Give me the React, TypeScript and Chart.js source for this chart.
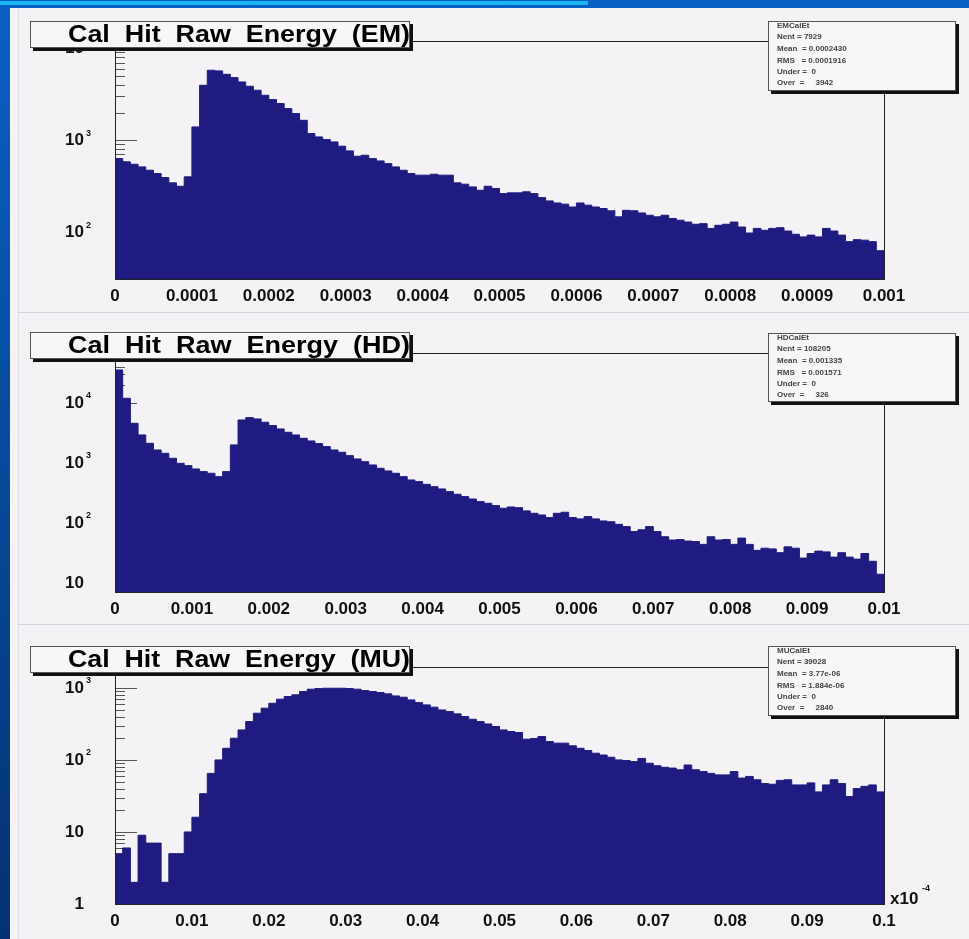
import React, { useEffect, useRef } from "react";
import { Chart, registerables } from "chart.js";

Chart.register(...registerables);

const PAGE_W = 969;
const PAGE_H = 939;
const NAVY = "#1f1b80";
const FONT = '"Liberation Sans", Arial, Helvetica, sans-serif';

// ---------------- data ----------------
const EM_RANGE = [0, 0.001];
const EM_COUNTS = [
  632, 582, 548, 513, 472, 434, 393, 344, 316, 400,
  1396, 3960, 5768, 5675, 5212, 4797, 4303, 3864, 3497, 3085,
  2767, 2504, 2208, 1950, 1648, 1182, 1087, 1017, 959, 861,
  766, 670, 687, 632, 596, 557, 513, 472, 434, 417,
  417, 427, 417, 417, 344, 333, 311, 286, 316, 299,
  263, 268, 268, 275, 263, 238, 219, 208, 202, 188,
  208, 197, 188, 181, 171, 147, 173, 171, 162, 153,
  147, 153, 141, 135, 129, 122, 124, 110, 119, 122,
  129, 114, 98, 110, 105, 110, 112, 103, 95, 89,
  93, 89, 110, 103, 93, 79, 83, 82, 79, 63,
];
const EM_X_LABELS = ["0", "0.0001", "0.0002", "0.0003", "0.0004", "0.0005", "0.0006", "0.0007", "0.0008", "0.0009", "0.001"];
const EM_Y_LABELS = [100, 1000, 10000];
const EM_Y_LIMITS = [31, 12000];
const EM_TITLE = "Cal  Hit  Raw  Energy  (EM)";
const EM_STATS = ["EMCalEt", "Nent = 7929", "Mean  = 0.0002430", "RMS   = 0.0001916", "Under =  0", "Over  =     3942"];

const HD_RANGE = [0, 0.01];
const HD_COUNTS = [
  35500, 11970, 4580, 2930, 2130, 1648, 1450, 1197, 987, 903,
  794, 718, 673, 592, 718, 2000, 5210, 5700, 5420, 4770,
  4200, 3690, 3245, 2930, 2578, 2328, 2103, 1873, 1648, 1507,
  1325, 1167, 1052, 926, 815, 736, 673, 592, 521, 489,
  441, 403, 369, 333, 301, 275, 251, 227, 213, 195,
  176, 185, 180, 159, 145, 136, 123, 145, 151, 123,
  117, 128, 117, 108, 105, 95, 87, 72, 77, 87,
  72, 59, 52, 53, 50, 49, 44, 59, 52, 53,
  44, 56, 44, 35, 38, 37, 32, 40, 38, 26,
  31, 34, 33, 27, 32, 27, 25, 31, 23, 14,
];
const HD_X_LABELS = ["0", "0.001", "0.002", "0.003", "0.004", "0.005", "0.006", "0.007", "0.008", "0.009", "0.01"];
const HD_Y_LABELS = [10, 100, 1000, 10000];
const HD_Y_LIMITS = [7.08, 68000];
const HD_TITLE = "Cal  Hit  Raw  Energy  (HD)";
const HD_STATS = ["HDCalEt", "Nent = 108205", "Mean  = 0.001335", "RMS   = 0.001571", "Under =  0", "Over  =     326"];

const MU_RANGE = [0, 0.1];
const MU_COUNTS = [
  5, 6, 2, 9, 7, 7, 2, 5, 5, 10,
  16, 34, 65, 100, 145, 200, 261, 341, 445, 523,
  612, 697, 758, 800, 890, 959, 980, 989, 989, 989,
  980, 959, 919, 890, 861, 826, 774, 742, 681, 625,
  581, 540, 495, 469, 436, 400, 367, 341, 316, 291,
  261, 248, 240, 194, 198, 211, 180, 171, 171, 157,
  145, 135, 124, 117, 109, 100, 98, 95, 105, 90,
  83, 79, 77, 73, 85, 73, 69, 65, 62, 62,
  69, 56, 59, 53, 47, 46, 52, 53, 45, 45,
  48, 36, 45, 53, 47, 31, 40, 43, 45, 36,
];
const MU_X_LABELS = ["0", "0.01", "0.02", "0.03", "0.04", "0.05", "0.06", "0.07", "0.08", "0.09", "0.1"];
const MU_Y_LABELS = [1, 10, 100, 1000];
const MU_Y_LIMITS = [1, 1950];
const MU_TITLE = "Cal  Hit  Raw  Energy  (MU)";
const MU_STATS = ["MUCalEt", "Nent = 39028", "Mean  = 3.77e-06", "RMS   = 1.884e-06", "Under =  0", "Over  =     2840"];
const MU_X_EXPONENT = "-4";

// ---------------- layout (page pixels) ----------------
const PANELS = [
  {
    counts: EM_COUNTS, range: EM_RANGE, xLabels: EM_X_LABELS, yLabels: EM_Y_LABELS, yLimits: EM_Y_LIMITS,
    title: EM_TITLE, stats: EM_STATS, xExp: null,
    plot: { left: 115, right: 884, top: 41, bottom: 279 },
    titleBox: { x: 30, y: 21, w: 380, h: 27 },
    statsBox: { x: 768, y: 21, w: 188, h: 70 },
  },
  {
    counts: HD_COUNTS, range: HD_RANGE, xLabels: HD_X_LABELS, yLabels: HD_Y_LABELS, yLimits: HD_Y_LIMITS,
    title: HD_TITLE, stats: HD_STATS, xExp: null,
    plot: { left: 115, right: 884, top: 353, bottom: 592 },
    titleBox: { x: 30, y: 332, w: 380, h: 27 },
    statsBox: { x: 768, y: 333, w: 188, h: 69 },
  },
  {
    counts: MU_COUNTS, range: MU_RANGE, xLabels: MU_X_LABELS, yLabels: MU_Y_LABELS, yLimits: MU_Y_LIMITS,
    title: MU_TITLE, stats: MU_STATS, xExp: MU_X_EXPONENT,
    plot: { left: 115, right: 884, top: 667, bottom: 904 },
    titleBox: { x: 30, y: 646, w: 380, h: 27 },
    statsBox: { x: 768, y: 646, w: 188, h: 70 },
  },
];

function histPoints(counts: number[], range: number[]) {
  const n = counts.length;
  const w = (range[1] - range[0]) / n;
  const pts = counts.map((v, i) => ({ x: range[0] + i * w, y: v }));
  pts.push({ x: range[1], y: counts[n - 1] });
  return pts;
}

function drawBox(ctx: CanvasRenderingContext2D, b: any) {
  ctx.fillStyle = "#111";
  ctx.fillRect(b.x + 3, b.y + 3, b.w, b.h);
  ctx.fillStyle = "#f7f6f8";
  ctx.fillRect(b.x, b.y, b.w, b.h);
  ctx.strokeStyle = "#555";
  ctx.lineWidth = 1;
  ctx.strokeRect(b.x + 0.5, b.y + 0.5, b.w - 1, b.h - 1);
}

function makePlugin(cfg: any) {
  return {
    id: "rootPad",
    beforeDatasetsDraw(chart: any) {
      const { ctx, chartArea: a, scales } = chart;
      const x = scales.x, y = scales.y;
      ctx.save();
      ctx.strokeStyle = "#555";
      ctx.lineWidth = 1;
      ctx.beginPath();
      const e0 = Math.floor(Math.log10(y.min));
      const e1 = Math.ceil(Math.log10(y.max));
      for (let e = e0; e <= e1; e++) {
        for (let m = 1; m <= 9; m++) {
          const v = m * Math.pow(10, e);
          if (v < y.min || v > y.max) continue;
          const py = Math.round(y.getPixelForValue(v)) + 0.5;
          const len = m === 1 ? 22 : 10;
          ctx.moveTo(a.left, py);
          ctx.lineTo(a.left + len, py);
        }
      }
      for (const lab of cfg.xLabels) {
        const px = Math.round(x.getPixelForValue(parseFloat(lab))) + 0.5;
        ctx.moveTo(px, a.bottom);
        ctx.lineTo(px, a.bottom - 12);
      }
      ctx.stroke();
      ctx.restore();
    },
    afterDatasetsDraw(chart: any) {
      const { ctx, chartArea: a, scales } = chart;
      const x = scales.x, y = scales.y;
      ctx.save();
      // frame
      ctx.strokeStyle = "#222";
      ctx.lineWidth = 1;
      ctx.strokeRect(a.left + 0.5, a.top + 0.5, a.right - a.left, a.bottom - a.top);

      // x labels
      ctx.fillStyle = "#111";
      ctx.font = `bold 17px ${FONT}`;
      ctx.textAlign = "center";
      ctx.textBaseline = "middle";
      for (const lab of cfg.xLabels) {
        const px = x.getPixelForValue(parseFloat(lab));
        ctx.fillText(lab, px, a.bottom + 17);
      }
      // y labels
      for (const v of cfg.yLabels) {
        const py = y.getPixelForValue(v);
        const e = Math.round(Math.log10(v));
        ctx.font = `bold 17px ${FONT}`;
        ctx.textAlign = "right";
        ctx.textBaseline = "middle";
        if (e === 0) {
          ctx.fillText("1", 84, py);
        } else {
          ctx.fillText("10", 84, py);
          if (e > 1) {
            ctx.font = `bold 9px ${FONT}`;
            ctx.textAlign = "left";
            ctx.fillText(String(e), 86, py - 7);
          }
        }
      }
      // axis multiplier
      if (cfg.xExp) {
        ctx.font = `bold 17px ${FONT}`;
        ctx.textAlign = "left";
        ctx.textBaseline = "alphabetic";
        ctx.fillText("x10", a.right + 6, a.bottom);
        ctx.font = `bold 9px ${FONT}`;
        ctx.fillText(cfg.xExp, a.right + 38, a.bottom - 13);
      }

      // title box
      const tb = cfg.titleBox;
      drawBox(ctx, tb);
      ctx.fillStyle = "#000";
      ctx.font = `bold 23px ${FONT}`;
      ctx.textAlign = "left";
      ctx.textBaseline = "middle";
      const tw = ctx.measureText(cfg.title).width;
      const target = tb.x + tb.w - 38 - tb.x;
      ctx.save();
      ctx.translate(tb.x + 38, tb.y + tb.h / 2 + 1);
      ctx.scale(target / tw, 1);
      ctx.fillText(cfg.title, 0, 0);
      ctx.restore();

      // stats box
      const sb = cfg.statsBox;
      drawBox(ctx, sb);
      ctx.fillStyle = "#444";
      ctx.font = `bold 8px ${FONT}`;
      ctx.textAlign = "left";
      ctx.textBaseline = "middle";
      const offs = [5, 16, 28, 40, 51, 62];
      cfg.stats.forEach((s: string, i: number) => {
        ctx.fillText(s, sb.x + 9, sb.y + offs[i]);
      });
      ctx.restore();
    },
  };
}

export default function App() {
  const refs = [useRef<HTMLCanvasElement>(null), useRef<HTMLCanvasElement>(null), useRef<HTMLCanvasElement>(null)];

  useEffect(() => {
    const charts: Chart[] = [];
    PANELS.forEach((p, i) => {
      const cv = refs[i].current;
      if (!cv) return;
      const ch = new Chart(cv, {
        type: "line",
        data: {
          datasets: [
            {
              data: histPoints(p.counts, p.range),
              stepped: true,
              fill: "start",
              backgroundColor: NAVY,
              borderColor: NAVY,
              borderWidth: 1,
              pointRadius: 0,
              tension: 0,
            } as any,
          ],
        },
        options: {
          animation: false,
          responsive: false,
          events: [],
          layout: {
            padding: {
              left: p.plot.left,
              right: PAGE_W - p.plot.right,
              top: p.plot.top,
              bottom: PAGE_H - p.plot.bottom,
            },
          },
          plugins: { legend: { display: false }, tooltip: { enabled: false }, title: { display: false } },
          scales: {
            x: { type: "linear", min: p.range[0], max: p.range[1], display: false },
            y: { type: "logarithmic", min: p.yLimits[0], max: p.yLimits[1], display: false },
          },
        } as any,
        plugins: [makePlugin(p)],
      });
      charts.push(ch);
    });
    return () => charts.forEach((c) => c.destroy());
  }, []);

  const canvasStyle: React.CSSProperties = { position: "absolute", left: 0, top: 0 };
  return (
    <div
      style={{
        position: "fixed",
        left: 0,
        top: 0,
        width: PAGE_W,
        height: PAGE_H,
        overflow: "hidden",
        background: "linear-gradient(to bottom, #0a60c6, #05326f)",
      }}
    >
      <div style={{ position: "absolute", left: 0, top: 1, width: 588, height: 4, background: "#1cb6ef" }} />
      <div style={{ position: "absolute", left: 10, top: 8, width: PAGE_W - 10, height: PAGE_H - 8, background: "#f4f2f5" }} />
      <div style={{ position: "absolute", left: 18, top: 8, width: 1, height: PAGE_H - 8, background: "#e0dfe3" }} />
      <div style={{ position: "absolute", left: 18, top: 312, width: PAGE_W - 18, height: 1, background: "#d6d5da" }} />
      <div style={{ position: "absolute", left: 18, top: 624, width: PAGE_W - 18, height: 1, background: "#d6d5da" }} />
      {refs.map((r, i) => (
        <canvas key={i} ref={r} width={PAGE_W} height={PAGE_H} style={canvasStyle} />
      ))}
    </div>
  );
}
